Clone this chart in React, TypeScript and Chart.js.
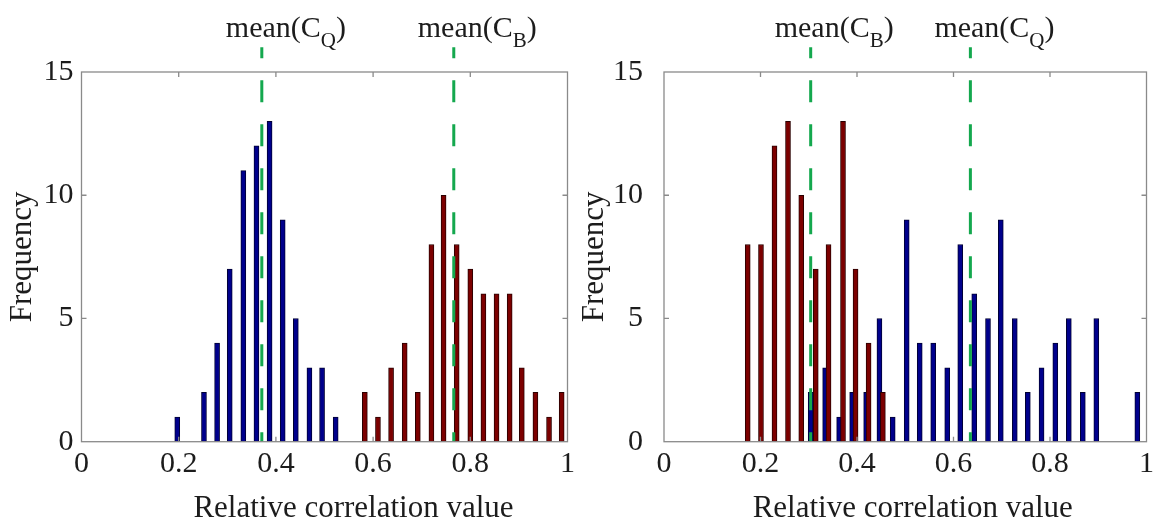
import React, { useEffect, useRef } from "react";
import { Chart, registerables } from "chart.js";

Chart.register(...registerables);

// ---------- data ----------
const xTickValues = [0, 0.2, 0.4, 0.6, 0.8, 1];
const yTickValues = [0, 5, 10, 15];

// left panel
const leftBlueX = [0.197, 0.252, 0.279, 0.305, 0.333, 0.36, 0.387, 0.414, 0.441, 0.469, 0.495, 0.523];
const leftBlueY = [1, 2, 4, 7, 11, 12, 13, 9, 5, 3, 3, 1];
const leftRedX = [0.583, 0.61, 0.637, 0.665, 0.692, 0.72, 0.745, 0.772, 0.8, 0.827, 0.854, 0.881, 0.906, 0.934, 0.962, 0.988];
const leftRedY = [2, 1, 3, 4, 2, 8, 10, 8, 7, 6, 6, 6, 3, 2, 1, 2];
const leftMeanValues = [0.371, 0.766];
const leftMeanSubs = ["Q", "B"];

// right panel
const rightRedX = [0.1735, 0.201, 0.229, 0.257, 0.2845, 0.3145, 0.341, 0.371, 0.397, 0.424, 0.4536];
const rightRedY = [8, 8, 12, 13, 10, 7, 8, 13, 7, 4, 2];
const rightBlueX = [0.304, 0.334, 0.363, 0.39, 0.419, 0.4465, 0.474, 0.503, 0.53, 0.558, 0.587, 0.614, 0.643, 0.6715, 0.698, 0.727, 0.754, 0.7825, 0.811, 0.839, 0.868, 0.896, 0.981];
const rightBlueY = [2, 3, 1, 2, 2, 5, 1, 9, 4, 4, 3, 8, 6, 5, 9, 5, 2, 3, 4, 5, 2, 5, 2];
const rightMeanValues = [0.304, 0.635];
const rightMeanSubs = ["B", "Q"];

const meanLineTop = 16;
const xTitle = "Relative correlation value";
const yTitle = "Frequency";

// ---------- styles ----------
const FONT = "'Liberation Serif', 'Times New Roman', serif";
const BLUE = "#00008c";
const BLUE_EDGE = "#000033";
const RED = "#7c0000";
const RED_EDGE = "#2a0000";
const GREEN = "#14a84e";
const AXIS = "#8a8a8a";
const TEXT = "#1c1c1c";

type PanelProps = {
  left: number;
  width: number;
  areaLeft: number;
  padRight: number;
  yTickPad: number;
  yTitlePad: number;
  xTitleDx: number;
  blueX: number[];
  blueY: number[];
  redX: number[];
  redY: number[];
  meanValues: number[];
  meanSubs: string[];
};

function Panel(p: PanelProps) {
  const ref = useRef<HTMLCanvasElement | null>(null);

  useEffect(() => {
    if (!ref.current) return;

    const framePlugin = {
      id: "frame",
      afterDraw(chart: any) {
        const { ctx, chartArea: a, scales } = chart;
        const xs = scales.x;
        const ys = scales.y;
        const T = 5;
        ctx.save();
        ctx.strokeStyle = AXIS;
        ctx.lineWidth = 1.3;
        ctx.strokeRect(a.left, a.top, a.right - a.left, a.bottom - a.top);
        ctx.beginPath();
        xs.ticks.forEach((t: any) => {
          if (t.value <= 0 || t.value >= 1) return;
          const px = xs.getPixelForValue(t.value);
          ctx.moveTo(px, a.bottom);
          ctx.lineTo(px, a.bottom - T);
          ctx.moveTo(px, a.top);
          ctx.lineTo(px, a.top + T);
        });
        ys.ticks.forEach((t: any) => {
          if (t.value <= 0 || t.value >= 15) return;
          const py = ys.getPixelForValue(t.value);
          ctx.moveTo(a.left, py);
          ctx.lineTo(a.left + T, py);
          ctx.moveTo(a.right, py);
          ctx.lineTo(a.right - T, py);
        });
        ctx.stroke();

        // x title
        ctx.fillStyle = TEXT;
        ctx.font = `31px ${FONT}`;
        ctx.textAlign = "center";
        ctx.textBaseline = "alphabetic";
        ctx.fillText(xTitle, (a.left + a.right) / 2 + p.xTitleDx, 517);

        // mean labels
        p.meanValues.forEach((m, i) => {
          const px = xs.getPixelForValue(m);
          let x0 = px - 36;
          ctx.textAlign = "left";
          ctx.font = `30px ${FONT}`;
          ctx.fillText("mean(C", x0, 37);
          x0 += ctx.measureText("mean(C").width;
          ctx.font = `21px ${FONT}`;
          ctx.fillText(p.meanSubs[i], x0, 47);
          x0 += ctx.measureText(p.meanSubs[i]).width;
          ctx.font = `30px ${FONT}`;
          ctx.fillText(")", x0, 37);
        });
        ctx.restore();
      },
    };

    const lineSets = p.meanValues.map((m) => ({
      type: "line" as const,
      data: [
        { x: m, y: meanLineTop },
        { x: m, y: 0 },
      ],
      borderColor: GREEN,
      borderWidth: 3,
      borderDash: [22, 22],
      borderDashOffset: 11,
      pointRadius: 0,
      fill: false,
      tension: 0,
      clip: false as const,
      order: 0,
    }));

    const chart = new Chart(ref.current, {
      type: "bar",
      data: {
        datasets: [
          ...lineSets,
          {
            type: "bar",
            data: p.redX.map((x, i) => ({ x, y: p.redY[i] })),
            backgroundColor: RED,
            borderColor: RED_EDGE,
            borderWidth: 1,
            borderSkipped: false,
            barThickness: 5,
            grouped: false,
            order: 1,
          },
          {
            type: "bar",
            data: p.blueX.map((x, i) => ({ x, y: p.blueY[i] })),
            backgroundColor: BLUE,
            borderColor: BLUE_EDGE,
            borderWidth: 1,
            borderSkipped: false,
            barThickness: 5,
            grouped: false,
            order: 2,
          },
        ] as any,
      },
      options: {
        animation: false,
        responsive: false,
        devicePixelRatio: 1,
        events: [],
        layout: { padding: { top: 72, right: p.padRight, bottom: 0, left: 0 } },
        plugins: { legend: { display: false }, tooltip: { enabled: false } },
        scales: {
          x: {
            type: "linear",
            min: 0,
            max: 1,
            offset: false,
            afterBuildTicks: (s: any) => {
              s.ticks = xTickValues.map((v) => ({ value: v }));
            },
            afterFit: (s: any) => {
              s.height = 79.3;
            },
            grid: { display: false, drawTicks: false, offset: false },
            border: { display: false },
            ticks: {
              color: TEXT,
              font: { family: FONT, size: 30 },
              padding: 4,
              maxRotation: 0,
              autoSkip: false,
              callback: (v: any) => String(Math.round(Number(v) * 10) / 10),
            },
          },
          y: {
            type: "linear",
            min: 0,
            max: 15,
            afterBuildTicks: (s: any) => {
              s.ticks = yTickValues.map((v) => ({ value: v }));
            },
            afterFit: (s: any) => {
              s.width = p.areaLeft;
            },
            grid: { display: false, drawTicks: false },
            border: { display: false },
            ticks: {
              color: TEXT,
              font: { family: FONT, size: 30 },
              padding: p.yTickPad,
              autoSkip: false,
            },
            title: {
              display: true,
              text: yTitle,
              color: TEXT,
              font: { family: FONT, size: 31, lineHeight: 1 },
              padding: { top: p.yTitlePad, bottom: 0 },
            },
          },
        },
      } as any,
      plugins: [framePlugin],
    });
    return () => chart.destroy();
  }, []);

  return (
    <canvas
      ref={ref}
      width={p.width}
      height={521}
      style={{ position: "absolute", left: p.left, top: 0, width: p.width, height: 521 }}
    />
  );
}

export default function App() {
  return (
    <div style={{ position: "absolute", left: 0, top: 0, width: 1158, height: 521, background: "#fff", overflow: "hidden" }}>
      <Panel
        left={0}
        width={579}
        areaLeft={81.5}
        padRight={9}
        yTickPad={8}
        yTitlePad={7.5}
        xTitleDx={29}
        blueX={leftBlueX}
        blueY={leftBlueY}
        redX={leftRedX}
        redY={leftRedY}
        meanValues={leftMeanValues}
        meanSubs={leftMeanSubs}
      />
      <Panel
        left={579}
        width={579}
        areaLeft={85}
        padRight={8}
        yTickPad={21}
        yTitlePad={0}
        xTitleDx={7.5}
        blueX={rightBlueX}
        blueY={rightBlueY}
        redX={rightRedX}
        redY={rightRedY}
        meanValues={rightMeanValues}
        meanSubs={rightMeanSubs}
      />
    </div>
  );
}
